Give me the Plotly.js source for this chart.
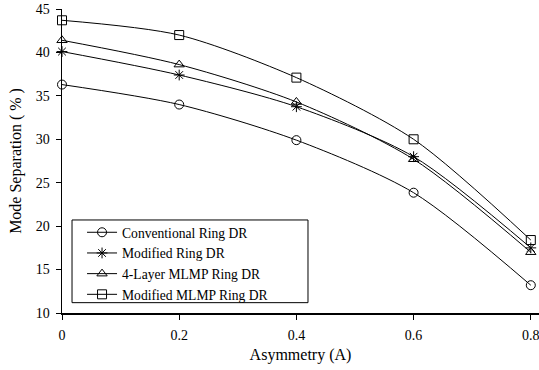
<!DOCTYPE html>
<html>
<head>
<meta charset="utf-8">
<script src="https://cdn.plot.ly/plotly-3.0.1.min.js"></script>
<style>html,body{margin:0;padding:0;background:#fff;}#chart{width:539px;height:370px;}</style>
</head>
<body>
<div id="chart"></div>
<script>
const asymmetry = [0, 0.2, 0.4, 0.6, 0.8];
const conventional = [36.3, 34.0, 29.9, 23.85, 13.2];
const modifiedRing = [40.1, 37.4, 33.75, 28.0, 17.5];
const fourLayer = [41.4, 38.6, 34.3, 27.7, 17.0];
const modifiedMLMP = [43.7, 42.0, 37.1, 30.0, 18.4];
const seriesNames = ['Conventional Ring DR', 'Modified Ring DR', '4-Layer MLMP Ring DR', 'Modified MLMP Ring DR'];
const seriesValues = [conventional, modifiedRing, fourLayer, modifiedMLMP];
const symbols = ['circle-open', 'asterisk-open', 'triangle-up-open', 'square-open'];
const xTickLabels = ['0', '0.2', '0.4', '0.6', '0.8'];

const traces = seriesValues.map((vals, i) => ({
  x: asymmetry, y: vals, name: seriesNames[i], type: 'scatter', mode: 'lines+markers',
  line: {color: '#000', width: 1, shape: 'spline', smoothing: 0.8},
  marker: {symbol: symbols[i], size: 9, color: '#000', line: {color: '#000', width: 1}},
  cliponaxis: false
}));

const font = {family: '"Liberation Serif", "Times New Roman", serif', color: '#000'};
Plotly.newPlot('chart', traces, {
  width: 539, height: 370,
  margin: {l: 62, r: 0, t: 9, b: 57},
  paper_bgcolor: '#fff', plot_bgcolor: '#fff',
  font: Object.assign({size: 14}, font),
  showlegend: true,
  legend: {x: 0.042, y: 0.316, xanchor: 'left', yanchor: 'top', borderwidth: 0,
           bgcolor: 'rgba(0,0,0,0)', font: Object.assign({size: 13.6}, font), tracegroupgap: 0, itemwidth: 30},
  shapes: [{type: 'rect', xref: 'paper', yref: 'paper', x0: 0.021, x1: 0.5157, y0: 0.034, y1: 0.306,
            line: {color: '#000', width: 1}, fillcolor: '#fff', layer: 'above'}],
  xaxis: {range: [0, 0.814], tickvals: asymmetry, ticktext: xTickLabels,
          showgrid: false, zeroline: false, showline: true, linecolor: '#000', linewidth: 1.5,
          ticks: 'outside', ticklen: 5, tickcolor: '#000', tickfont: Object.assign({size: 14}, font),
          ticklabelstandoff: 4, ticklabeloverflow: 'allow',
          title: {text: 'Asymmetry (A)', font: Object.assign({size: 16}, font), standoff: 6}},
  yaxis: {range: [10, 45], dtick: 5, showgrid: false, zeroline: false, showline: true, linecolor: '#000', linewidth: 1.5,
          ticks: 'outside', ticklen: 5, tickcolor: '#000', tickfont: Object.assign({size: 14}, font),
          ticklabelstandoff: 3,
          title: {text: 'Mode Separation ( % )', font: Object.assign({size: 16}, font), standoff: 10}}
}, {displayModeBar: false, staticPlot: true});
</script>
</body>
</html>
